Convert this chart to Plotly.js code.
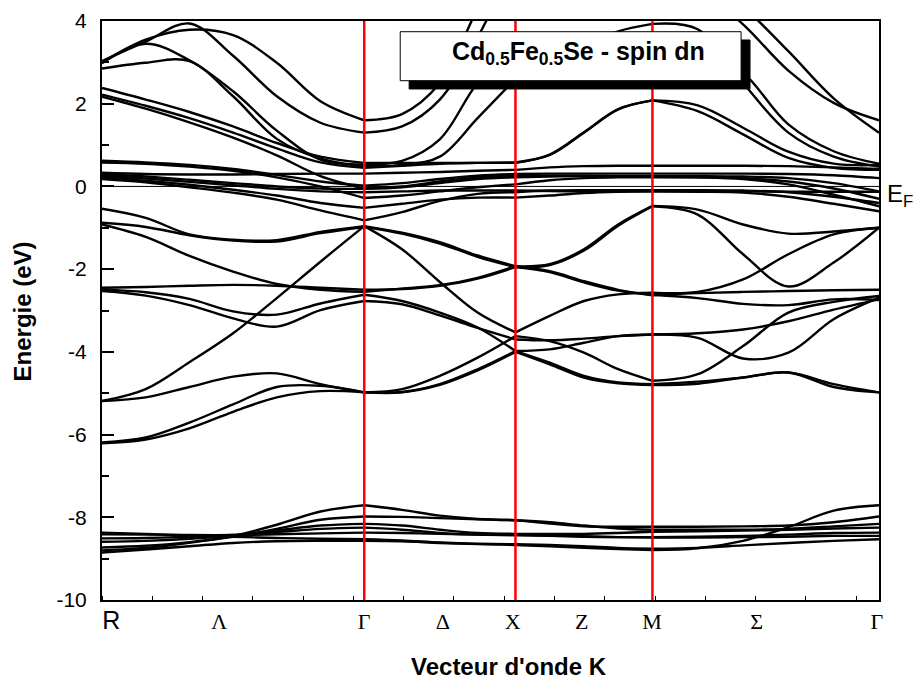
<!DOCTYPE html>
<html>
<head>
<meta charset="utf-8">
<script src="https://cdn.plot.ly/plotly-3.0.1.min.js"></script>
<style>html,body{margin:0;padding:0;background:#fff;}#chart{width:915px;height:683px;}</style>
</head>
<body>
<div id="chart"></div>
<script>
// k-path sampling (R - Gamma - X - M - Gamma), in axis units
const kGrid = [0, 0.0869, 0.1738, 0.2607, 0.3476, 0.4345, 0.5215, 0.5967, 0.6718, 0.7470, 0.8223, 0.8904, 0.9585, 1.0266, 1.0947, 1.1848, 1.2749, 1.3650, 1.4551, 1.5453];
const symK = [0.5215, 0.8223, 1.0947];           // Γ, X, M red lines
const labelK = [0.0185, 0.2332, 0.5215, 0.678, 0.817, 0.954, 1.094, 1.302, 1.541];
const labelText = ['<span style="font-family:Liberation Sans;font-size:25px">R</span>', 'Λ', 'Γ', 'Δ', 'X', 'Z', 'M', 'Σ', 'Γ'];
const yTickVals = [-10, -8, -6, -4, -2, 0, 2, 4];
const yTickText = ['-10', '-8', '-6', '-4', '-2', '0', '2', '4'];

// bands (eV) at kGrid points
const bandF1 = [3.03, 3.50, 3.94, 3.16, 2.18, 1.54, 1.30, 1.45, 2.10, 3.60, 5.50, 6.20, 6.60, 6.60, 6.00, 5.20, 4.35, 3.27, 2.13, 1.30];
const bandF2 = [3.00, 3.55, 3.79, 3.66, 2.99, 2.06, 1.60, 1.75, 2.50, 4.30, 6.00, 6.50, 6.60, 6.30, 5.50, 4.80, 3.92, 2.80, 2.02, 1.60];
const bandF3 = [2.98, 3.45, 3.05, 2.30, 1.35, 0.65, 0.53, 0.62, 1.14, 2.50, 3.35, 3.55, 3.62, 3.60, 3.55, 3.40, 2.75, 1.50, 0.85, 0.55];
const bandF4 = [2.85, 2.99, 3.03, 2.18, 1.15, 0.67, 0.49, 0.52, 0.72, 1.65, 2.60, 3.00, 3.40, 3.75, 3.93, 3.80, 2.50, 1.30, 0.72, 0.48];
const bandG1 = [2.38, 2.10, 1.80, 1.45, 1.05, 0.72, 0.57, 0.57, 0.57, 0.57, 0.57, 0.76, 1.30, 1.86, 2.08, 1.96, 1.42, 0.84, 0.55, 0.52];
const bandG2 = [2.22, 1.95, 1.65, 1.30, 0.92, 0.58, 0.45, 0.50, 0.55, 0.57, 0.58, 0.77, 1.31, 1.87, 2.08, 1.82, 1.26, 0.69, 0.45, 0.40];
const bandG3 = [2.17, 1.88, 1.55, 1.18, 0.75, 0.25, -0.05, 0.00, 0.12, 0.22, 0.26, 0.26, 0.26, 0.25, 0.25, 0.25, 0.24, 0.20, 0.08, -0.12];
const bandE1 = [0.62, 0.58, 0.52, 0.42, 0.28, 0.12, 0.02, 0.08, 0.18, 0.26, 0.30, 0.31, 0.31, 0.31, 0.31, 0.31, 0.31, 0.30, 0.27, 0.20];
const bandE2 = [0.58, 0.55, 0.48, 0.38, 0.22, 0.00, -0.28, -0.22, -0.12, -0.02, 0.05, 0.15, 0.20, 0.22, 0.22, 0.22, 0.20, 0.12, -0.05, -0.30];
const bandE3 = [0.33, 0.30, 0.29, 0.29, 0.30, 0.31, 0.31, 0.33, 0.35, 0.38, 0.40, 0.46, 0.49, 0.50, 0.50, 0.50, 0.50, 0.49, 0.46, 0.42];
const bandE4 = [0.30, 0.24, 0.16, 0.08, 0.00, -0.05, -0.06, -0.02, 0.08, 0.18, 0.22, 0.24, 0.25, 0.24, 0.23, 0.22, 0.18, 0.05, -0.20, -0.48];
const bandE5 = [0.26, 0.19, 0.11, 0.03, -0.06, -0.12, -0.14, -0.12, -0.10, -0.10, -0.10, -0.11, -0.12, -0.12, -0.12, -0.12, -0.12, -0.13, -0.13, -0.13];
const bandE6 = [0.22, 0.14, 0.04, -0.08, -0.22, -0.40, -0.52, -0.42, -0.32, -0.27, -0.27, -0.22, -0.16, -0.13, -0.12, -0.13, -0.15, -0.25, -0.42, -0.60];
const bandE7 = [0.18, 0.10, -0.02, -0.15, -0.32, -0.58, -0.82, -0.62, -0.35, -0.18, -0.14, -0.10, -0.09, -0.09, -0.09, -0.09, -0.10, -0.14, -0.25, -0.40];
const bandD1 = [-0.54, -0.76, -1.16, -1.29, -1.30, -1.10, -0.96, -1.12, -1.35, -1.67, -1.93, -1.88, -1.52, -0.92, -0.47, -0.56, -0.92, -1.14, -1.09, -1.00];
const bandD2 = [-0.88, -0.98, -1.18, -1.31, -1.33, -1.13, -0.98, -1.14, -1.38, -1.70, -1.95, -1.90, -1.55, -0.95, -0.48, -0.68, -1.64, -2.42, -1.84, -1.00];
const bandD3 = [-0.92, -1.22, -1.68, -2.06, -2.36, -2.50, -2.55, -2.47, -2.39, -2.21, -1.93, -2.05, -2.29, -2.50, -2.63, -2.58, -2.55, -2.53, -2.51, -2.50];
const bandS1 = [-5.19, -4.90, -4.25, -3.55, -2.70, -1.82, -0.96, -1.52, -2.31, -3.05, -3.53, -3.13, -2.77, -2.61, -2.57, -2.55, -2.25, -1.64, -1.16, -1.00];
const bandC1 = [-2.45, -2.43, -2.40, -2.38, -2.40, -2.45, -2.50, -2.48, -2.40, -2.23, -1.95, -2.07, -2.32, -2.52, -2.62, -2.70, -2.84, -2.87, -2.73, -2.75];
const bandC2 = [-2.49, -2.56, -2.72, -3.02, -3.10, -2.83, -2.62, -2.77, -3.05, -3.41, -3.98, -4.26, -4.58, -4.74, -4.78, -4.72, -4.62, -4.50, -4.78, -4.98];
const bandC3 = [-2.53, -2.64, -2.87, -3.19, -3.39, -2.99, -2.77, -2.85, -3.12, -3.42, -3.70, -3.72, -3.68, -3.62, -3.58, -3.55, -3.46, -3.26, -2.98, -2.73];
const bandH1 = [-5.19, -5.10, -4.85, -4.60, -4.52, -4.78, -4.98, -4.90, -4.58, -4.14, -3.62, -3.74, -4.02, -4.42, -4.70, -4.54, -3.86, -3.05, -2.79, -2.65];
const bandL2 = [-6.19, -6.07, -5.71, -5.27, -4.85, -4.82, -4.98, -4.97, -4.78, -4.42, -3.98, -3.94, -3.78, -3.62, -3.58, -3.66, -4.16, -4.02, -3.21, -2.69];
const bandL1 = [-6.21, -6.12, -5.85, -5.45, -5.10, -4.95, -4.98, -4.98, -4.80, -4.45, -4.00, -4.30, -4.62, -4.76, -4.80, -4.77, -4.62, -4.50, -4.85, -4.98];
const bandA1 = [-8.80, -8.74, -8.62, -8.45, -8.18, -7.86, -7.71, -7.82, -7.96, -8.04, -8.07, -8.15, -8.22, -8.23, -8.23, -8.23, -8.22, -8.20, -8.12, -7.98];
const bandA2 = [-8.73, -8.69, -8.60, -8.47, -8.28, -8.06, -7.98, -7.99, -8.02, -8.05, -8.07, -8.12, -8.20, -8.27, -8.30, -8.30, -8.30, -8.28, -8.22, -8.16];
const bandA3 = [-8.59, -8.57, -8.52, -8.44, -8.32, -8.20, -8.16, -8.20, -8.30, -8.38, -8.40, -8.40, -8.40, -8.38, -8.35, -8.34, -8.32, -8.30, -8.27, -8.25];
const bandA4 = [-8.51, -8.50, -8.47, -8.43, -8.36, -8.28, -8.25, -8.30, -8.38, -8.42, -8.43, -8.45, -8.47, -8.48, -8.48, -8.47, -8.45, -8.42, -8.38, -8.37];
const bandA5 = [-8.41, -8.42, -8.43, -8.43, -8.41, -8.39, -8.37, -8.38, -8.40, -8.42, -8.43, -8.44, -8.46, -8.48, -8.49, -8.49, -8.48, -8.47, -8.45, -8.45];
const bandA6 = [-8.37, -8.40, -8.44, -8.47, -8.50, -8.52, -8.53, -8.56, -8.61, -8.64, -8.65, -8.67, -8.70, -8.74, -8.76, -8.74, -8.68, -8.62, -8.57, -8.53];
const bandA7 = [-8.85, -8.78, -8.70, -8.62, -8.58, -8.57, -8.57, -8.58, -8.62, -8.65, -8.67, -8.70, -8.74, -8.77, -8.79, -8.75, -8.57, -8.24, -7.84, -7.71];

const bands = [bandF1, bandF2, bandF3, bandF4, bandG1, bandG2, bandG3,
  bandE1, bandE2, bandE3, bandE4, bandE5, bandE6, bandE7,
  bandD1, bandD2, bandD3, bandS1, bandC1, bandC2, bandC3,
  bandH1, bandL2, bandL1,
  bandA1, bandA2, bandA3, bandA4, bandA5, bandA6, bandA7];

// path segments (index ranges into kGrid)
const segments = [[0, 6], [6, 10], [10, 14], [14, 19]];

const traces = [];
bands.forEach(b => {
  segments.forEach(([a, z]) => {
    traces.push({
      x: kGrid.slice(a, z + 1), y: b.slice(a, z + 1),
      type: 'scatter', mode: 'lines',
      line: {color: '#000', width: 2.4, shape: 'spline', smoothing: 1},
      hoverinfo: 'skip', showlegend: false
    });
  });
});

const shapes = [
  {type: 'line', xref: 'paper', yref: 'y', x0: 0, x1: 1, y0: 0, y1: 0, line: {color: '#000', width: 1}, layer: 'below'}
];
symK.forEach(k => shapes.push({type: 'line', xref: 'x', yref: 'paper', x0: k, x1: k, y0: 0, y1: 1, line: {color: '#ff0000', width: 2.5}, layer: 'above'}));
shapes.push({type: 'rect', xref: 'paper', yref: 'paper', x0: 0.3953, x1: 0.8340, y0: 0.8826, y1: 0.9672, fillcolor: '#000', line: {color: '#000', width: 1}, layer: 'above'});
shapes.push({type: 'rect', xref: 'paper', yref: 'paper', x0: 0.3838, x1: 0.8225, y0: 0.8969, y1: 0.9815, fillcolor: '#fff', line: {color: '#000', width: 1}, layer: 'above'});

const layout = {
  width: 915, height: 683,
  margin: {l: 102, r: 36, t: 21, b: 83, pad: 0},
  paper_bgcolor: '#fff', plot_bgcolor: '#fff',
  showlegend: false,
  font: {family: 'Liberation Sans, Arial, sans-serif', color: '#000'},
  xaxis: {
    range: [0, 1.5453], tickmode: 'array', tickvals: labelK, ticktext: labelText,
    ticks: '', showgrid: false, zeroline: false, showline: true, linecolor: '#000', linewidth: 2, mirror: true,
    tickfont: {family: 'Liberation Serif, Times New Roman, serif', size: 22, color: '#000'},
    ticklabelstandoff: 1,
    minor: {tickmode: 'linear', tick0: 0, dtick: 0.1, ticks: 'inside', ticklen: 4, tickwidth: 1, tickcolor: '#000', showgrid: false}
  },
  yaxis: {
    range: [-10, 4], tickmode: 'array', tickvals: yTickVals, ticktext: yTickText,
    ticks: 'inside', ticklen: 12, tickwidth: 2, tickcolor: '#000',
    showgrid: false, zeroline: false, showline: true, linecolor: '#000', linewidth: 2, mirror: true,
    tickfont: {family: 'Liberation Sans, Arial, sans-serif', size: 21, color: '#000'},
    ticklabelstandoff: 9,
    minor: {tickmode: 'linear', tick0: -10, dtick: 1, ticks: 'inside', ticklen: 7, tickwidth: 2, tickcolor: '#000', showgrid: false}
  },
  shapes: shapes,
  annotations: [
    {xref: 'paper', yref: 'paper', x: 0.6128, y: 0.945, xanchor: 'center', yanchor: 'middle', showarrow: false,
     text: '<b>Cd<sub>0.5</sub>Fe<sub>0.5</sub>Se - spin dn</b>', font: {family: 'Liberation Sans, Arial, sans-serif', size: 25, color: '#000'}},
    {xref: 'paper', yref: 'paper', x: 1.008, y: 0.698, xanchor: 'left', yanchor: 'middle', showarrow: false,
     text: 'E<sub>F</sub>', font: {family: 'Liberation Sans, Arial, sans-serif', size: 24, color: '#000'}},
    {xref: 'paper', yref: 'paper', x: -0.1025, y: 0.499, xanchor: 'center', yanchor: 'middle', showarrow: false, textangle: -90,
     text: '<b>Energie (eV)</b>', font: {family: 'Liberation Sans, Arial, sans-serif', size: 24, color: '#000'}},
    {xref: 'paper', yref: 'paper', x: 0.524, y: -0.1157, xanchor: 'center', yanchor: 'middle', showarrow: false,
     text: '<b>Vecteur d\'onde K</b>', font: {family: 'Liberation Sans, Arial, sans-serif', size: 24, color: '#000'}}
  ]
};

Plotly.newPlot('chart', traces, layout, {staticPlot: true, displayModeBar: false});
</script>
</body>
</html>
